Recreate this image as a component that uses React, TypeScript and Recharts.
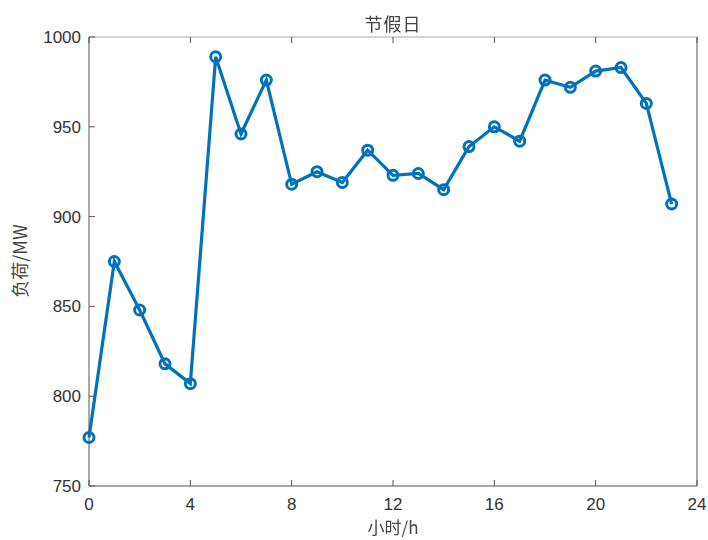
import React from "react";
import { LineChart, Line, XAxis, YAxis } from "recharts";

// 节假日逐时负荷
const HOURS = [0, 1, 2, 3, 4, 5, 6, 7, 8, 9, 10, 11, 12, 13, 14, 15, 16, 17, 18, 19, 20, 21, 22, 23];
const LOAD = [777, 875, 848, 818, 807, 989, 946, 976, 918, 925, 919, 937, 923, 924, 915, 939, 950, 942, 976, 972, 981, 983, 963, 907];
const X_TICKS = [0, 4, 8, 12, 16, 20, 24];
const Y_TICKS = [750, 800, 850, 900, 950, 1000];

const BLUE = "#0072BD";
const AXIS = "#555";
const TXT = "#333";
const FONT = "'Liberation Sans', Arial, sans-serif";
const CJK = "'Noto Sans CJK SC', sans-serif";

const data = HOURS.map((h, i) => ({ h, v: LOAD[i] }));

// inward tick marks, MATLAB style
const XTick = ({ x, y, payload, dir, label }: any) => (
  <g>
    <line x1={x} y1={y} x2={x} y2={y + dir * 6} stroke={AXIS} strokeWidth={1} />
    {label && (
      <text x={x} y={y + 24} textAnchor="middle" fontSize={17} fill={TXT} fontFamily={FONT}>
        {payload.value}
      </text>
    )}
  </g>
);

const YTick = ({ x, y, payload, dir, label }: any) => (
  <g>
    <line x1={x} y1={y} x2={x + dir * 6} y2={y} stroke={AXIS} strokeWidth={1} />
    {label && (
      <text x={x - 8} y={y + 6} textAnchor="end" fontSize={17} fill={TXT} fontFamily={FONT}>
        {payload.value}
      </text>
    )}
  </g>
);

export default function App() {
  return (
    <div style={{ position: "fixed", left: 0, top: 0, width: 708, height: 540, background: "#fff" }}>
      <LineChart width={708} height={540} data={data} margin={{ top: 27, right: 1, bottom: 24, left: 49 }}>
        <XAxis xAxisId="b" dataKey="h" type="number" domain={[0, 24]} ticks={X_TICKS} height={30}
          tickSize={0} tickMargin={0} stroke={AXIS} tick={<XTick dir={-1} label />} interval={0} />
        <XAxis xAxisId="t" orientation="top" dataKey="h" type="number" domain={[0, 24]} ticks={X_TICKS} height={10}
          tickSize={0} tickMargin={0} stroke="#aaa" tick={<XTick dir={1} />} interval={0} />
        <YAxis yAxisId="l" type="number" domain={[750, 1000]} ticks={Y_TICKS} width={40}
          tickSize={0} tickMargin={0} stroke={AXIS} tick={<YTick dir={1} label />} interval={0} />
        <YAxis yAxisId="r" orientation="right" type="number" domain={[750, 1000]} ticks={Y_TICKS} width={10}
          tickSize={0} tickMargin={0} stroke={AXIS} tick={<YTick dir={-1} />} interval={0} />
        <Line xAxisId="b" yAxisId="l" dataKey="v" stroke={BLUE} strokeWidth={3.2} isAnimationActive={false}
          dot={{ r: 5, stroke: BLUE, strokeWidth: 3, fill: "none" }} activeDot={false} />
      </LineChart>
      <div style={{ position: "absolute", left: 0, width: 786, top: 11, lineHeight: "24px", textAlign: "center", fontFamily: CJK, fontSize: 18, letterSpacing: 1, color: "#444" }}>
        节假日
      </div>
      <div style={{ position: "absolute", left: 0, width: 786, top: 517, lineHeight: "20px", textAlign: "center", fontFamily: CJK, fontSize: 17, color: "#444" }}>
        小时/h
      </div>
      <div style={{ position: "absolute", left: 19, top: 261, lineHeight: "24px", transform: "translate(-50%, -50%) rotate(-90deg)", whiteSpace: "nowrap", fontFamily: CJK, fontSize: 18, color: "#444" }}>
        负荷/MW
      </div>
    </div>
  );
}
